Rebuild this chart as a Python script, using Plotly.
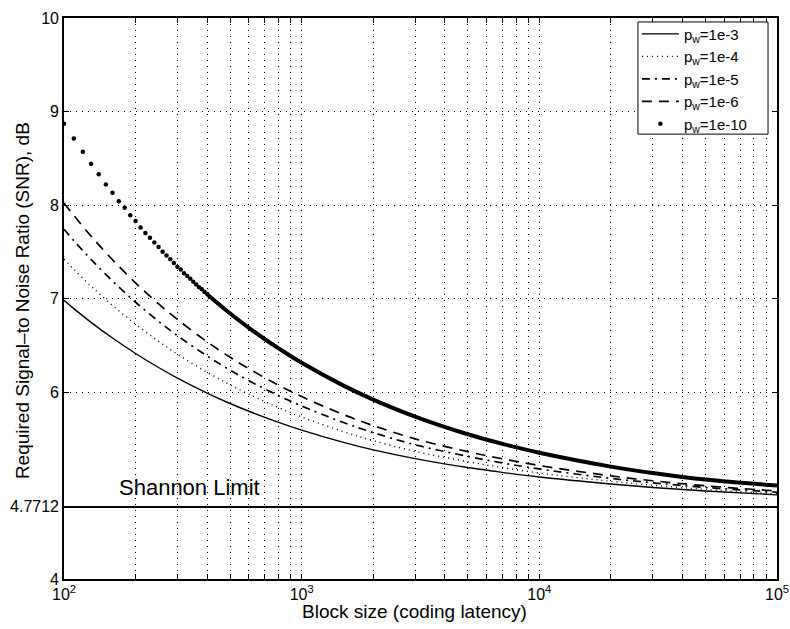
import plotly.graph_objects as go

SHANNON = 4.7712

# Block sizes (shared sampling for the line curves)
n_pts = [100, 110, 130, 160, 200, 250, 300, 400, 500, 600, 800, 1000, 1500,
         2000, 3000, 5000, 7000, 10000, 20000, 30000, 50000, 100000]

snr_1e3 = [6.981, 6.892, 6.745, 6.577, 6.412, 6.262, 6.149, 5.989, 5.877, 5.794, 5.675,
           5.592, 5.461, 5.381, 5.288, 5.192, 5.140, 5.091, 5.016, 4.979, 4.941, 4.900]
snr_1e4 = [7.421, 7.312, 7.132, 6.926, 6.725, 6.542, 6.405, 6.211, 6.077, 5.976, 5.833,
           5.733, 5.576, 5.480, 5.365, 5.255, 5.192, 5.134, 5.045, 5.003, 4.958, 4.912]
snr_1e5 = [7.741, 7.619, 7.417, 7.187, 6.960, 6.756, 6.603, 6.385, 6.234, 6.121, 5.961,
           5.850, 5.673, 5.566, 5.436, 5.312, 5.241, 5.177, 5.076, 5.029, 4.979, 4.928]
snr_1e6 = [8.021, 7.888, 7.667, 7.414, 7.167, 6.943, 6.776, 6.537, 6.372, 6.249, 6.073,
           5.951, 5.758, 5.641, 5.499, 5.362, 5.285, 5.214, 5.103, 5.051, 4.997, 4.941]

# p_w = 1e-10: individual dots (visible at small block sizes)
n_dots = [100, 110, 120, 130, 140, 150, 160, 170, 180, 190, 200, 210, 220, 230, 240,
          250, 260, 270, 280, 290, 300, 310, 320, 330, 340, 350, 360, 370, 380, 390, 400]
snr_dots = [8.87, 8.71, 8.57, 8.44, 8.33, 8.22, 8.13, 8.04, 7.97, 7.89, 7.83, 7.76, 7.70,
            7.65, 7.60, 7.55, 7.50, 7.46, 7.42, 7.38, 7.34, 7.31, 7.27, 7.24, 7.21, 7.18,
            7.15, 7.12, 7.10, 7.07, 7.05]
# p_w = 1e-10: dense part where the dots merge into a thick line
n_dense = [400, 500, 600, 700, 800, 1000, 1500, 2000, 3000, 5000, 7000, 10000, 20000,
           30000, 50000, 100000]
snr_dense = [7.046, 6.840, 6.686, 6.564, 6.466, 6.312, 6.068, 5.919, 5.737, 5.548, 5.445,
             5.350, 5.202, 5.134, 5.063, 4.999]

x_range = [100, 100000]
y_ticks = [4, SHANNON, 6, 7, 8, 9, 10]
y_tick_text = ["4", "4.7712", "6", "7", "8", "9", "10"]

x_tickvals = []
x_ticktext = []
for exp_ in [2, 3, 4]:
    for m in range(1, 10):
        x_tickvals.append(m * 10 ** exp_)
        x_ticktext.append("10<sup>%d</sup>" % exp_ if m == 1 else "")
x_tickvals.append(10 ** 5)
x_ticktext.append("10<sup>5</sup>")

FONT = "Liberation Sans, Arial, Helvetica, sans-serif"
BLACK = "#000000"

fig = go.Figure()

fig.add_trace(go.Scatter(x=n_pts, y=snr_1e3, mode="lines", name="p<sub>w</sub>=1e-3",
                         line=dict(color=BLACK, width=1.4, shape="spline")))
fig.add_trace(go.Scatter(x=n_pts, y=snr_1e4, mode="lines", name="p<sub>w</sub>=1e-4",
                         line=dict(color=BLACK, width=1.4, dash="1px,4px", shape="spline")))
fig.add_trace(go.Scatter(x=n_pts, y=snr_1e5, mode="lines", name="p<sub>w</sub>=1e-5",
                         line=dict(color=BLACK, width=1.7, dash="8px,5px,2px,5px", shape="spline")))
fig.add_trace(go.Scatter(x=n_pts, y=snr_1e6, mode="lines", name="p<sub>w</sub>=1e-6",
                         line=dict(color=BLACK, width=1.7, dash="10px,7px", shape="spline")))
fig.add_trace(go.Scatter(x=n_dots, y=snr_dots, mode="markers", name="p<sub>w</sub>=1e-10",
                         marker=dict(color=BLACK, size=4.5)))
fig.add_trace(go.Scatter(x=n_dense, y=snr_dense, mode="lines", showlegend=False,
                         line=dict(color=BLACK, width=4, shape="spline")))
fig.add_trace(go.Scatter(x=x_range, y=[SHANNON, SHANNON], mode="lines", showlegend=False,
                         line=dict(color=BLACK, width=2)))

# legend frame (drawn as a white box; the legend itself sits on top of it)
fig.add_shape(type="rect", xref="paper", yref="paper", x0=0.805, x1=0.9874,
              y0=0.793, y1=0.9929, layer="above",
              fillcolor="white", line=dict(color=BLACK, width=1))

fig.add_annotation(x=2.223, y=4.984, xref="x", yref="y", text="Shannon Limit",
                   showarrow=False, xanchor="left", yanchor="middle",
                   font=dict(family=FONT, size=22, color=BLACK))
fig.add_annotation(x=0.491, y=-0.058, xref="paper", yref="paper",
                   text="Block size (coding latency)", showarrow=False,
                   xanchor="center", yanchor="middle",
                   font=dict(family=FONT, size=19, color=BLACK))
fig.add_annotation(x=-0.059, y=0.497, xref="paper", yref="paper",
                   text="Required Signal–to Noise Ratio (SNR), dB", showarrow=False,
                   textangle=-90, xanchor="center", yanchor="middle",
                   font=dict(family=FONT, size=19, color=BLACK))

axis_common = dict(showline=True, linecolor=BLACK, linewidth=1.6, mirror="allticks",
                   ticks="inside", ticklen=5, tickcolor=BLACK, tickwidth=1,
                   showgrid=True, gridcolor=BLACK, gridwidth=1, griddash="1px,5px",
                   zeroline=False, automargin=False,
                   tickfont=dict(family=FONT, size=16, color=BLACK))

fig.update_xaxes(type="log", range=[2, 5], tickvals=x_tickvals, ticktext=x_ticktext,
                 **axis_common)
fig.update_yaxes(range=[4, 10], tickvals=y_ticks, ticktext=y_tick_text, **axis_common)

fig.update_layout(
    width=790, height=629,
    margin=dict(l=64, r=13, t=18, b=50),
    paper_bgcolor="white", plot_bgcolor="white",
    font=dict(family=FONT, color=BLACK),
    showlegend=True,
    legend=dict(x=0.8035, y=1.0007, xanchor="left", yanchor="top",
                bgcolor="rgba(0,0,0,0)", borderwidth=0,
                font=dict(family=FONT, size=15, color=BLACK),
                tracegroupgap=0, itemwidth=37),
)

fig.write_html("out.html")
